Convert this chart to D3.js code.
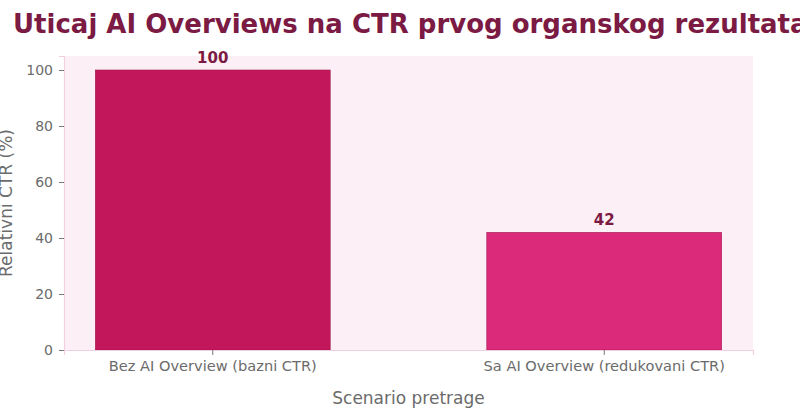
<!DOCTYPE html>
<html>
<head>
<meta charset="utf-8">
<script src="https://cdn.jsdelivr.net/npm/d3@7"></script>
<style>
  body { margin: 0; background: #fff; }
  svg { display: block; }
  text { font-family: "DejaVu Sans", sans-serif; }
</style>
</head>
<body>
<svg id="chart"></svg>
<script>
var svgWidth = 800, svgHeight = 420;

// data
var scenarios = ["Bez AI Overview (bazni CTR)", "Sa AI Overview (redukovani CTR)"];
var ctrValues = [100, 42];
var barColors = ["#c2185b", "#db2a79"];
var yTicks = [0, 20, 40, 60, 80, 100];

var margin = {top: 56, right: 47, bottom: 70, left: 64};
var w = svgWidth - margin.left - margin.right,
    h = svgHeight - margin.top - margin.bottom;

var svg = d3.select("#chart")
    .attr("width", svgWidth)
    .attr("height", svgHeight);

var x = d3.scaleBand()
    .domain(scenarios)
    .range([0, w])
    .paddingInner(0.4)
    .paddingOuter(0.08);

var y = d3.scaleLinear()
    .domain([0, 105])
    .range([h, 0]);

// y label, slightly cut at the left edge like the original
svg.append("text")
    .attr("transform", "translate(6," + (margin.top + h / 2) + ") rotate(-90)")
    .attr("text-anchor", "middle")
    .attr("dominant-baseline", "central")
    .attr("fill", "#6b6b6b")
    .style("font-size", "17px")
    .text("Relativni CTR (%)");

var g = svg.append("g")
    .attr("transform", "translate(" + margin.left + "," + margin.top + ")");

g.append("rect")
    .attr("width", w)
    .attr("height", h)
    .attr("fill", "#fcf0f6");

g.selectAll("rect.bar")
    .data(ctrValues)
    .enter()
    .append("rect")
    .attr("class", "bar")
    .attr("x", (d, i) => x(scenarios[i]))
    .attr("y", d => y(d))
    .attr("width", x.bandwidth())
    .attr("height", d => h - y(d))
    .attr("fill", (d, i) => barColors[i])
    .attr("stroke", "#a3154c")
    .attr("stroke-width", 0.6);

g.selectAll("text.val")
    .data(ctrValues)
    .enter()
    .append("text")
    .attr("class", "val")
    .attr("x", (d, i) => x(scenarios[i]) + x.bandwidth() / 2)
    .attr("y", d => y(d) - 7)
    .attr("text-anchor", "middle")
    .attr("fill", "#7b1a42")
    .style("font-size", "15px")
    .style("font-weight", "bold")
    .text(d => d);

// axes
var yAxis = g.append("g")
    .call(d3.axisLeft(y).tickValues(yTicks).tickSize(5).tickPadding(6));

var xAxis = g.append("g")
    .attr("transform", "translate(0," + h + ")")
    .call(d3.axisBottom(x).tickSize(5).tickPadding(6));

[yAxis, xAxis].forEach(function(a) {
  a.select(".domain").attr("stroke", "#f2cfe0").attr("stroke-width", 1.2);
  a.selectAll(".tick line").attr("stroke", "#777");
  a.selectAll(".tick text")
      .attr("fill", "#6b6b6b")
      .style("font-family", "'DejaVu Sans', sans-serif")
      .style("font-size", "14px");
});
xAxis.selectAll(".tick text").style("font-size", "14.6px");

svg.append("text")
    .attr("x", margin.left + w / 2)
    .attr("y", 404)
    .attr("text-anchor", "middle")
    .attr("fill", "#6b6b6b")
    .style("font-size", "17px")
    .text("Scenario pretrage");

svg.append("text")
    .attr("x", 13)
    .attr("y", 33)
    .attr("fill", "#7b1a42")
    .style("font-size", "26px")
    .style("font-weight", "bold")
    .text("Uticaj AI Overviews na CTR prvog organskog rezultata");
</script>
</body>
</html>
